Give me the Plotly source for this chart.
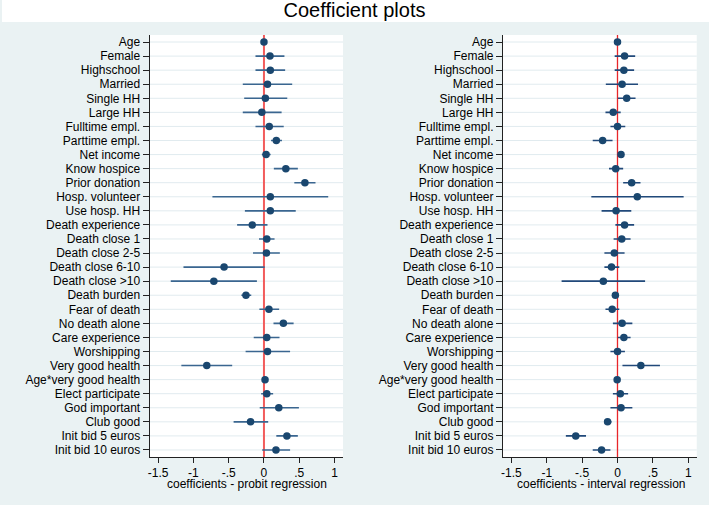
import plotly.graph_objects as go

labels = ["Age", "Female", "Highschool", "Married", "Single HH", "Large HH",
          "Fulltime empl.", "Parttime empl.", "Net income", "Know hospice",
          "Prior donation", "Hosp. volunteer", "Use hosp. HH", "Death experience",
          "Death close 1", "Death close 2-5", "Death close 6-10", "Death close >10",
          "Death burden", "Fear of death", "No death alone", "Care experience",
          "Worshipping", "Very good health", "Age*very good health",
          "Elect participate", "God important", "Club good",
          "Init bid 5 euros", "Init bid 10 euros"]

probit_coef = [0.00, 0.085, 0.09, 0.05, 0.02, -0.03, 0.075, 0.175, 0.03, 0.31,
               0.58, 0.09, 0.09, -0.165, 0.04, 0.035, -0.565, -0.71, -0.255, 0.07,
               0.275, 0.04, 0.05, -0.81, 0.015, 0.04, 0.21, -0.19, 0.325, 0.17]
probit_lo = [-0.01, -0.12, -0.12, -0.30, -0.28, -0.30, -0.12, 0.10, -0.03, 0.14,
             0.43, -0.73, -0.27, -0.38, -0.07, -0.155, -1.14, -1.32, -0.32, -0.065,
             0.135, -0.145, -0.26, -1.17, 0.00, -0.04, -0.06, -0.43, 0.175, -0.025]
probit_hi = [0.01, 0.29, 0.30, 0.40, 0.33, 0.25, 0.28, 0.255, 0.095, 0.48,
             0.73, 0.91, 0.45, 0.05, 0.15, 0.225, 0.01, -0.10, -0.18, 0.215,
             0.42, 0.22, 0.37, -0.45, 0.03, 0.13, 0.495, 0.06, 0.48, 0.37]

interval_coef = [0.00, 0.10, 0.09, 0.065, 0.13, -0.06, 0.00, -0.21, 0.05, -0.025,
                 0.20, 0.28, -0.02, 0.10, 0.06, -0.045, -0.085, -0.20, -0.03, -0.075,
                 0.065, 0.09, 0.00, 0.33, -0.005, 0.04, 0.05, -0.14, -0.59, -0.225]
interval_lo = [-0.01, -0.04, -0.04, -0.165, 0.005, -0.17, -0.10, -0.35, 0.035, -0.12,
               0.08, -0.37, -0.225, -0.03, -0.055, -0.185, -0.185, -0.79, -0.045, -0.17,
               -0.065, 0.005, -0.10, 0.07, -0.015, -0.065, -0.10, -0.185, -0.73, -0.35]
interval_hi = [0.01, 0.25, 0.235, 0.29, 0.255, 0.045, 0.11, -0.07, 0.065, 0.08,
               0.325, 0.935, 0.195, 0.235, 0.185, 0.10, 0.025, 0.39, -0.015, 0.025,
               0.21, 0.185, 0.105, 0.60, 0.005, 0.15, 0.21, -0.085, -0.445, -0.10]

tick_vals = [-1.5, -1, -0.5, 0, 0.5, 1]
tick_text = ["-1.5", "-1", "-.5", "0", ".5", "1"]
titles = ["coefficients - probit regression", "coefficients - interval regression"]

W, H = 709, 505
BG = "#eaf2f3"
NAVY = "#1a476f"
CI_COLORS = ["#3a6690", "#21497a"]
REF_COLORS = ["#f25c5c", "#e8262a"]
REF_WIDTHS = [2.0, 1.3]
GRID = "#e1ebef"
FONT = "Liberation Sans, Arial, sans-serif"

fig = go.Figure()

panels = [
    (probit_coef, probit_lo, probit_hi, "x", "y"),
    (interval_coef, interval_lo, interval_hi, "x2", "y2"),
]
for i, (coef, lo, hi, xa, ya) in enumerate(panels):
    fig.add_trace(go.Scatter(
        x=coef, y=labels, mode="markers",
        marker=dict(color=NAVY, size=7.5),
        error_x=dict(type="data", symmetric=False,
                     array=[h - c for h, c in zip(hi, coef)],
                     arrayminus=[c - l for c, l in zip(coef, lo)],
                     color=CI_COLORS[i], thickness=1.6, width=0),
        xaxis=xa, yaxis=ya, showlegend=False, hoverinfo="skip"))

top = 1 - 35 / H
bot = 1 - 457 / H
xdoms = [[148 / W, 342 / W], [502.3 / W, 696.7 / W]]
xr = [-1.62, 1.12]

axis_common = dict(showline=True, linecolor="#222222", linewidth=1,
                   ticks="outside", tickcolor="#222222", zeroline=False,
                   tickfont=dict(family=FONT, size=12, color="black"))

shapes = [dict(type="rect", xref="paper", yref="paper", x0=0, x1=1,
               y0=1 - 22 / H, y1=1, fillcolor="white", line=dict(width=0),
               layer="below")]
annotations = []

layout = dict(
    width=W, height=H,
    margin=dict(l=0, r=0, t=0, b=0),
    paper_bgcolor=BG, plot_bgcolor="white",
    font=dict(family=FONT, size=12, color="black"),
    title=dict(text="Coefficient plots", x=0.5, xanchor="center",
               y=1 - 10 / H, yanchor="middle",
               font=dict(family=FONT, size=20, color="black")),
)

for i, (xa, ya) in enumerate([("xaxis", "yaxis"), ("xaxis2", "yaxis2")]):
    xref_name = "x" if i == 0 else "x2"
    yref_name = "y" if i == 0 else "y2"
    layout[xa] = dict(domain=xdoms[i], range=xr, anchor=yref_name,
                      tickvals=tick_vals, ticktext=tick_text, ticklen=5,
                      showgrid=False, fixedrange=True, **axis_common)
    layout[ya] = dict(domain=[bot, top], anchor=xref_name, type="category",
                      categoryorder="array", categoryarray=labels,
                      range=[len(labels) - 0.5, -0.5], ticklen=6,
                      showgrid=False, **axis_common)
    # horizontal gridlines at each category (drawn below the reference line)
    for lab in labels:
        shapes.append(dict(type="line", xref=xref_name + " domain", yref=yref_name,
                           x0=0, x1=1, y0=lab, y1=lab,
                           line=dict(color=GRID, width=1), layer="below"))
    shapes.append(dict(type="line", xref=xref_name, yref="paper",
                       x0=0, x1=0, y0=bot, y1=top,
                       line=dict(color=REF_COLORS[i], width=REF_WIDTHS[i]),
                       layer="below"))
    annotations.append(dict(
        text=titles[i], xref="paper", yref="paper",
        x=(xdoms[i][0] + xdoms[i][1]) / 2 + (0.5 / W if i == 0 else 2 / W),
        y=1 - 484 / H, xanchor="center", yanchor="middle", showarrow=False,
        font=dict(family=FONT, size=12, color="black")))

layout["shapes"] = shapes
layout["annotations"] = annotations
fig.update_layout(**layout)
fig.write_html("out.html")
